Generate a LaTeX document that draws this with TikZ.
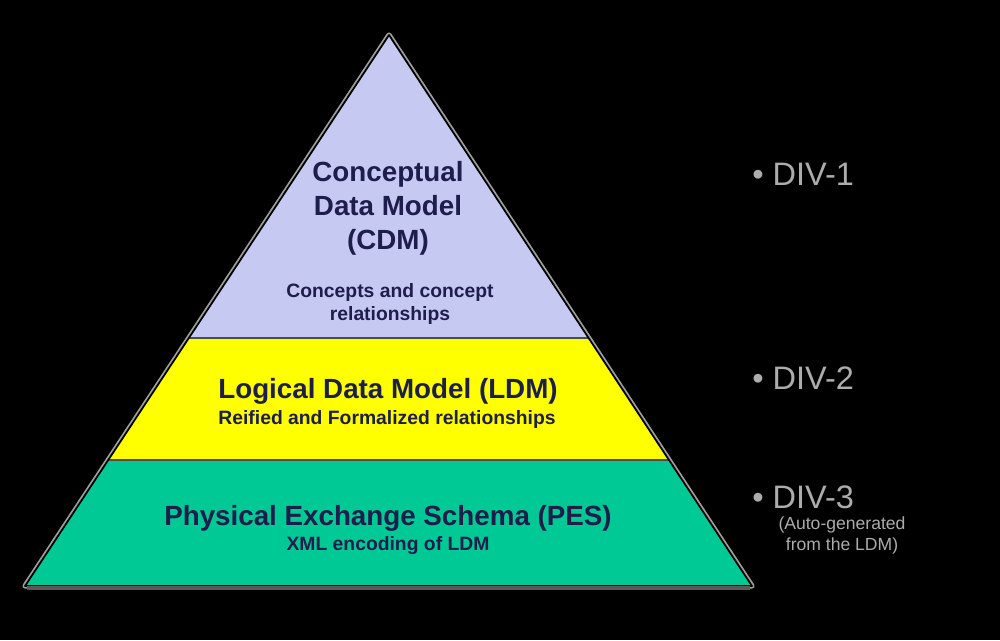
\documentclass[tikz,border=0pt]{standalone}
\usepackage{fontspec}
\setmainfont{Liberation Sans}
\usetikzlibrary{calc,backgrounds}
\definecolor{cdmfill}{HTML}{C6CAF3}
\definecolor{ldmfill}{HTML}{FFFF00}
\definecolor{pesfill}{HTML}{00C996}
\definecolor{ink}{HTML}{1E1E4C}
\tikzset{
  title/.style={font=\bfseries\fontsize{15.8}{19.4}\selectfont,text=ink,align=center,inner sep=0pt},
  sub/.style={font=\bfseries\fontsize{11}{13.6}\selectfont,text=ink,align=center,inner sep=0pt},
  divlabel/.style={font=\fontsize{18.5}{20}\selectfont,text=gray!65,anchor=west,inner sep=0pt}
}
\begin{document}
\begin{tikzpicture}[x=0.02cm,y=-0.02cm]
\useasboundingbox (0,0) rectangle (1000,640);
\fill[black] (0,0) rectangle (1000,640);
\coordinate (top) at (389,35);
\coordinate (bl) at (25,586);
\coordinate (br) at (752,586);
\coordinate (l1) at ($(top)!0.55!(bl)$);
\coordinate (r1) at ($(top)!0.55!(br)$);
\coordinate (l2) at ($(top)!0.771!(bl)$);
\coordinate (r2) at ($(top)!0.771!(br)$);
% halo and bands
\draw[gray!75,line width=3pt,line join=round] (top) -- (bl) -- (br) -- cycle;
\fill[cdmfill] (top) -- (l1) -- (r1) -- cycle;
\fill[ldmfill] (l1) -- (l2) -- (r2) -- (r1) -- cycle;
\fill[pesfill] (l2) -- (bl) -- (br) -- (r2) -- cycle;
\draw[black!70,line width=0.8pt] (l1) -- (r1) (l2) -- (r2);
\draw[black,line width=1pt,line join=round] (top) -- (bl) -- (br) -- cycle;
\draw[black!65,line width=2pt] ($(bl)+(2,2)$) -- ($(br)+(-2,2)$);
% texts
\node[title] (cdm) at (388,208) {Conceptual\\Data Model\\(CDM)};
\node[sub] (cdmsub) at (390,304) {Concepts and concept\\relationships};
\node[title] (ldm) at (388,391) {Logical Data Model (LDM)};
\node[sub] (ldmsub) at (387,419) {Reified and Formalized relationships};
\node[title] (pes) at (388,518) {Physical Exchange Schema (PES)};
\node[sub] (pessub) at (388,546) {XML encoding of LDM};
\foreach \n/\y in {1/174,2/378,3/497}
  \node[divlabel] (div\n) at (752,\y) {• DIV-\n};
\node[font=\fontsize{10}{12}\selectfont,text=gray!65,align=center,inner sep=0pt] (note) at (842,535) {(Auto-generated\\from the LDM)};
\end{tikzpicture}
\end{document}
